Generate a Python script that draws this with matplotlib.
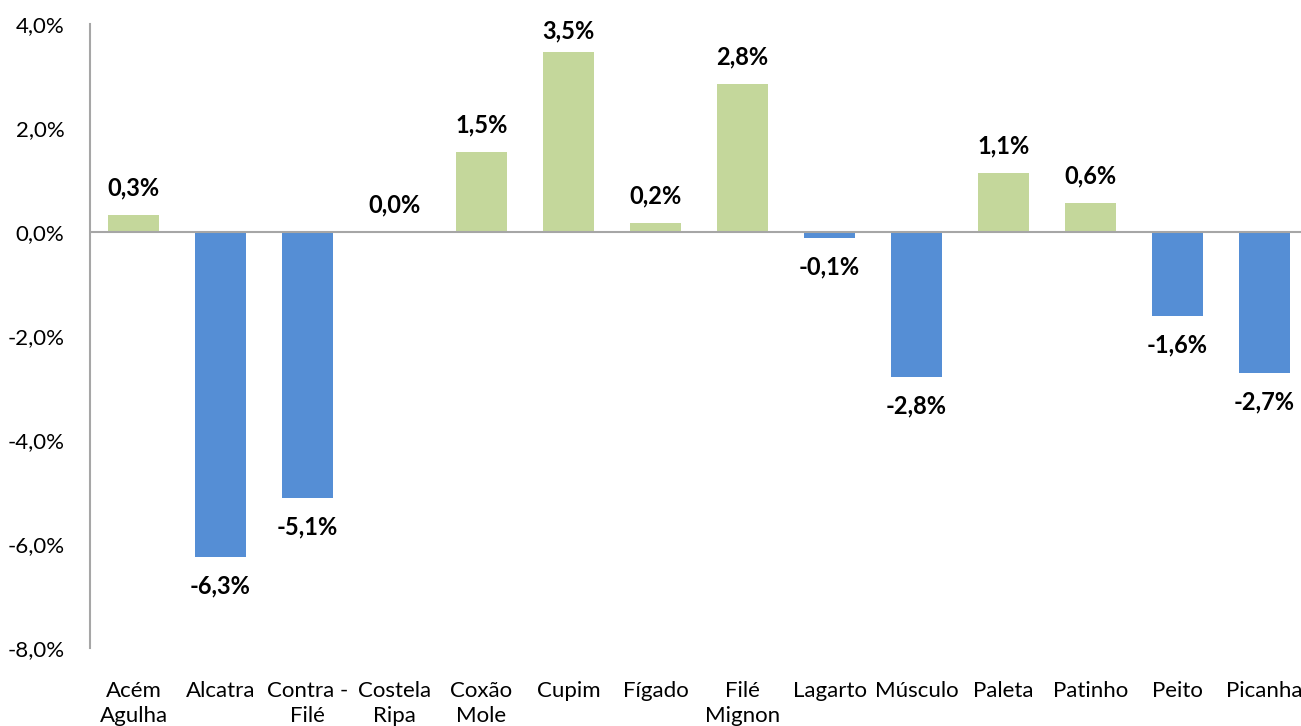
import numpy as np
import matplotlib
matplotlib.use('Agg')
import matplotlib.pyplot as plt
from matplotlib.ticker import FuncFormatter

#============================================================
# data
#============================================================
categorias = ['Acém\nAgulha', 'Alcatra', 'Contra -\nFilé', 'Costela\nRipa', 'Coxão\nMole',
              'Cupim', 'Fígado', 'Filé\nMignon', 'Lagarto', 'Músculo', 'Paleta',
              'Patinho', 'Peito', 'Picanha']
variacao = [0.33, -6.25, -5.12, 0.0, 1.54, 3.46, 0.17, 2.85, -0.12, -2.79, 1.13, 0.56, -1.62, -2.71]
rotulos = ['0,3%', '-6,3%', '-5,1%', '0,0%', '1,5%', '3,5%', '0,2%', '2,8%', '-0,1%',
           '-2,8%', '1,1%', '0,6%', '-1,6%', '-2,7%']

COR_POS = '#C4D79B'
COR_NEG = '#558ED5'
plt.rcParams['font.family'] = ['Lato', 'DejaVu Sans']

fig = plt.figure(figsize=(13.01, 7.26), dpi=100)
# plot area runs slightly past the right edge, like the original
ax = fig.add_axes([90/1301, 1-648/726, 1218/1301, 624/726])

x = np.arange(len(categorias))
cores = [COR_POS if v >= 0 else COR_NEG for v in variacao]
ax.bar(x, variacao, width=0.575, color=cores, zorder=2)

ax.set_xlim(-0.5, len(categorias) - 0.5)
ax.set_ylim(-8, 4)
topo = ax.transData.transform((0, 4))[1]
for xi, v, r in zip(x, variacao, rotulos):
    if v >= 0:
        # keep the label inside the plot area (excel style)
        ybar = ax.transData.transform((xi, v))[1]
        off = min(27, topo - 31 - ybar + 0)
        off = max(off, 21)
    else:
        off = -29
    ax.annotate(r, (xi, v), xytext=(0, off), textcoords='offset pixels',
                ha='center', va='center', fontsize=17, fontweight='bold', color='black')

ax.axhline(0, color='#A6A6A6', lw=1.5, zorder=3)
ax.set_yticks([-8, -6, -4, -2, 0, 2, 4])
ax.yaxis.set_major_formatter(FuncFormatter(lambda v, p: ('%.1f%%' % v).replace('.', ',')))
ax.set_xticks(x)
ax.set_xticklabels(categorias, fontsize=16, linespacing=1.3)

for s in ['top', 'right', 'bottom']:
    ax.spines[s].set_visible(False)
ax.spines['left'].set_color('#A6A6A6')
ax.spines['left'].set_linewidth(1.5)
ax.tick_params(axis='y', length=0, labelsize=16, pad=18.5)
ax.tick_params(axis='x', length=0, pad=24)

fig.savefig('out.png', dpi=100)
